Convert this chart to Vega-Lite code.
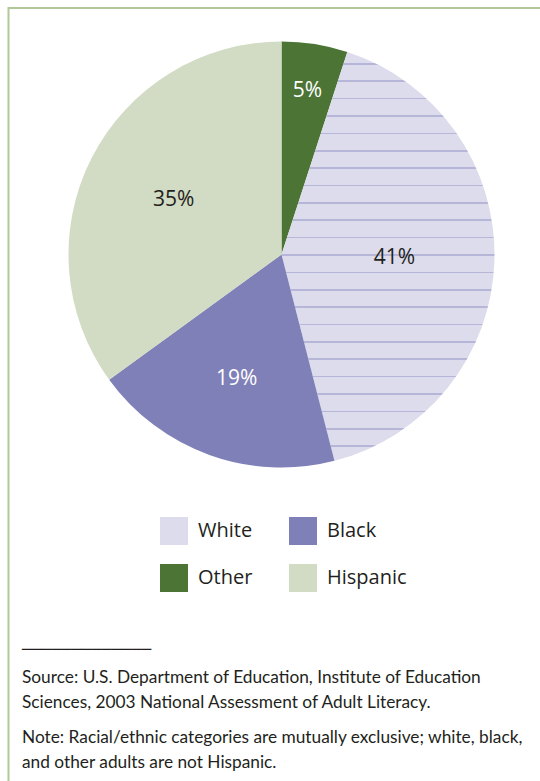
{
  "$schema": "https://vega.github.io/schema/vega-lite/v6.json",
  "padding": {"left": 6.5, "top": 7, "right": -12.5, "bottom": 0},
  "background": "white",
  "spacing": 0,
  "bounds": "flush",
  "config": {
    "font": "Open Sans",
    "view": {"stroke": null},
    "legend": {"labelFont": "Open Sans", "labelFontSize": 20, "labelColor": "#231f20"}
  },
  "vconcat": [
    {
      "width": 546,
      "height": 493,
      "view": {"stroke": "#b2c79a", "strokeWidth": 2, "strokeDash": [546, 1039, 493]},
      "title": {
        "text": "─────────────",
        "orient": "bottom",
        "anchor": "start",
        "frame": "group",
        "offset": 141,
        "dx": 13.5,
        "font": "DejaVu Sans",
        "fontSize": 16.5,
        "fontWeight": "normal",
        "color": "#231f20"
      },
      "data": {
        "values": [
          {"category": "Other", "share": 0.05, "ord": 1},
          {"category": "White", "share": 0.41, "ord": 2},
          {"category": "Black", "share": 0.19, "ord": 3},
          {"category": "Hispanic", "share": 0.35, "ord": 4}
        ]
      },
      "layer": [
        {
          "mark": {"type": "arc", "outerRadius": 213, "strokeWidth": 0},
          "encoding": {
            "theta": {"field": "share", "type": "quantitative", "stack": true},
            "order": {"field": "ord", "type": "quantitative"},
            "fill": {
              "condition": {
                "test": "datum.category === 'White'",
                "value": {
                  "gradient": "linear", "x1": 0, "y1": 0, "x2": 0, "y2": 1,
                  "stops": [
                    {"offset": 0, "color": "#dcdcec"},
                    {"offset": 0.02731, "color": "#dcdcec"}, {"offset": 0.02731, "color": "#b6b6d8"}, {"offset": 0.03111, "color": "#b6b6d8"}, {"offset": 0.03111, "color": "#dcdcec"},
                    {"offset": 0.06981, "color": "#dcdcec"}, {"offset": 0.06981, "color": "#b6b6d8"}, {"offset": 0.07361, "color": "#b6b6d8"}, {"offset": 0.07361, "color": "#dcdcec"},
                    {"offset": 0.11230, "color": "#dcdcec"}, {"offset": 0.11230, "color": "#b6b6d8"}, {"offset": 0.11610, "color": "#b6b6d8"}, {"offset": 0.11610, "color": "#dcdcec"},
                    {"offset": 0.15480, "color": "#dcdcec"}, {"offset": 0.15480, "color": "#b6b6d8"}, {"offset": 0.15860, "color": "#b6b6d8"}, {"offset": 0.15860, "color": "#dcdcec"},
                    {"offset": 0.19729, "color": "#dcdcec"}, {"offset": 0.19729, "color": "#b6b6d8"}, {"offset": 0.20109, "color": "#b6b6d8"}, {"offset": 0.20109, "color": "#dcdcec"},
                    {"offset": 0.23978, "color": "#dcdcec"}, {"offset": 0.23978, "color": "#b6b6d8"}, {"offset": 0.24358, "color": "#b6b6d8"}, {"offset": 0.24358, "color": "#dcdcec"},
                    {"offset": 0.28228, "color": "#dcdcec"}, {"offset": 0.28228, "color": "#b6b6d8"}, {"offset": 0.28608, "color": "#b6b6d8"}, {"offset": 0.28608, "color": "#dcdcec"},
                    {"offset": 0.32477, "color": "#dcdcec"}, {"offset": 0.32477, "color": "#b6b6d8"}, {"offset": 0.32857, "color": "#b6b6d8"}, {"offset": 0.32857, "color": "#dcdcec"},
                    {"offset": 0.36727, "color": "#dcdcec"}, {"offset": 0.36727, "color": "#b6b6d8"}, {"offset": 0.37107, "color": "#b6b6d8"}, {"offset": 0.37107, "color": "#dcdcec"},
                    {"offset": 0.40976, "color": "#dcdcec"}, {"offset": 0.40976, "color": "#b6b6d8"}, {"offset": 0.41356, "color": "#b6b6d8"}, {"offset": 0.41356, "color": "#dcdcec"},
                    {"offset": 0.45226, "color": "#dcdcec"}, {"offset": 0.45226, "color": "#b6b6d8"}, {"offset": 0.45606, "color": "#b6b6d8"}, {"offset": 0.45606, "color": "#dcdcec"},
                    {"offset": 0.49475, "color": "#dcdcec"}, {"offset": 0.49475, "color": "#b6b6d8"}, {"offset": 0.49855, "color": "#b6b6d8"}, {"offset": 0.49855, "color": "#dcdcec"},
                    {"offset": 0.53724, "color": "#dcdcec"}, {"offset": 0.53724, "color": "#b6b6d8"}, {"offset": 0.54104, "color": "#b6b6d8"}, {"offset": 0.54104, "color": "#dcdcec"},
                    {"offset": 0.57974, "color": "#dcdcec"}, {"offset": 0.57974, "color": "#b6b6d8"}, {"offset": 0.58354, "color": "#b6b6d8"}, {"offset": 0.58354, "color": "#dcdcec"},
                    {"offset": 0.62223, "color": "#dcdcec"}, {"offset": 0.62223, "color": "#b6b6d8"}, {"offset": 0.62603, "color": "#b6b6d8"}, {"offset": 0.62603, "color": "#dcdcec"},
                    {"offset": 0.66473, "color": "#dcdcec"}, {"offset": 0.66473, "color": "#b6b6d8"}, {"offset": 0.66853, "color": "#b6b6d8"}, {"offset": 0.66853, "color": "#dcdcec"},
                    {"offset": 0.70722, "color": "#dcdcec"}, {"offset": 0.70722, "color": "#b6b6d8"}, {"offset": 0.71102, "color": "#b6b6d8"}, {"offset": 0.71102, "color": "#dcdcec"},
                    {"offset": 0.74971, "color": "#dcdcec"}, {"offset": 0.74971, "color": "#b6b6d8"}, {"offset": 0.75351, "color": "#b6b6d8"}, {"offset": 0.75351, "color": "#dcdcec"},
                    {"offset": 0.79221, "color": "#dcdcec"}, {"offset": 0.79221, "color": "#b6b6d8"}, {"offset": 0.79601, "color": "#b6b6d8"}, {"offset": 0.79601, "color": "#dcdcec"},
                    {"offset": 0.83470, "color": "#dcdcec"}, {"offset": 0.83470, "color": "#b6b6d8"}, {"offset": 0.83850, "color": "#b6b6d8"}, {"offset": 0.83850, "color": "#dcdcec"},
                    {"offset": 0.87720, "color": "#dcdcec"}, {"offset": 0.87720, "color": "#b6b6d8"}, {"offset": 0.88100, "color": "#b6b6d8"}, {"offset": 0.88100, "color": "#dcdcec"},
                    {"offset": 0.91969, "color": "#dcdcec"}, {"offset": 0.91969, "color": "#b6b6d8"}, {"offset": 0.92349, "color": "#b6b6d8"}, {"offset": 0.92349, "color": "#dcdcec"},
                    {"offset": 0.96219, "color": "#dcdcec"}, {"offset": 0.96219, "color": "#b6b6d8"}, {"offset": 0.96599, "color": "#b6b6d8"}, {"offset": 0.96599, "color": "#dcdcec"},
                    {"offset": 1, "color": "#dcdcec"}
                  ]
                }
              },
              "field": "category",
              "type": "nominal",
              "scale": {
                "domain": ["White", "Other", "Black", "Hispanic"],
                "range": ["#dcdcec", "#4c7434", "#8080b9", "#d2dbc3"]
              },
              "legend": {
                "orient": "none",
                "legendX": 151.5,
                "legendY": 509,
                "columns": 2,
                "title": null,
                "padding": 0,
                "symbolType": "square",
                "symbolSize": 784,
                "symbolStrokeWidth": 0,
                "labelOffset": 10,
                "columnPadding": 36,
                "rowPadding": 19,
                "labelFontSize": 20
              }
            }
          }
        },
        {
          "mark": {
            "type": "text",
            "fontSize": 21,
            "align": "center",
            "baseline": "middle",
            "font": "Open Sans",
            "radius": {"expr": "datum.share < 0.1 ? 166 : (datum.category === 'White' ? 113 : (datum.category === 'Black' ? 132 : 121))"}
          },
          "encoding": {
            "theta": {"field": "share", "type": "quantitative", "stack": true},
            "order": {"field": "ord", "type": "quantitative"},
            "text": {"field": "share", "type": "quantitative", "format": ".0%"},
            "color": {
              "condition": {"test": "datum.category === 'Other' || datum.category === 'Black'", "value": "#ffffff"},
              "value": "#231f20"
            }
          }
        }
      ]
    },
    {
      "width": 546,
      "height": 280,
      "view": {"stroke": "#b2c79a", "strokeWidth": 2, "strokeDash": [0, 1372, 280]},
      "title": {
        "text": ["Source: U.S. Department of Education, Institute of Education", "Sciences, 2003 National Assessment of Adult Literacy."],
        "subtitle": ["Note: Racial/ethnic categories are mutually exclusive; white, black,", "and other adults are not Hispanic."],
        "orient": "bottom",
        "anchor": "start",
        "frame": "group",
        "offset": -112,
        "dx": 13.5,
        "font": "Lato",
        "subtitleFont": "Lato",
        "fontSize": 17.3,
        "subtitleFontSize": 17.3,
        "fontWeight": "normal",
        "color": "#231f20",
        "subtitleColor": "#231f20",
        "lineHeight": 25,
        "subtitleLineHeight": 25,
        "subtitlePadding": 18
      },
      "data": {"values": [{"part": "footnotes"}]},
      "mark": {"type": "rule"},
      "encoding": {}
    }
  ]
}
